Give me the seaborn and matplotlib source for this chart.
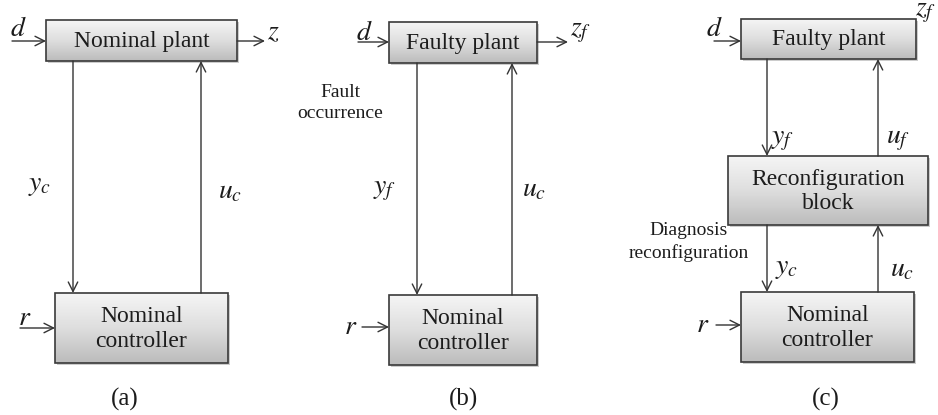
import matplotlib.pyplot as plt
import numpy as np
import seaborn as sns
from matplotlib.colors import LinearSegmentedColormap
from matplotlib.patches import Rectangle

# block labels and their corners in picture pixels (x0, y0, x1, y1)
BLOCK_LABELS = ['Nominal plant', 'Nominal\ncontroller',
                'Faulty plant', 'Nominal\ncontroller',
                'Faulty plant', 'Reconfiguration\nblock', 'Nominal\ncontroller']
BLOCK_BOXES = [(46, 20, 237, 61), (55, 293, 228, 363),
               (389, 22, 537, 63), (389, 295, 537, 365),
               (741, 19, 916, 59), (728, 156, 928, 225), (741, 292, 914, 362)]

# signal arrows: start, end
ARROWS = [
    ((12, 41), (46, 41)), ((237, 41), (265, 41)),
    ((73, 61), (73, 293)), ((201, 293), (201, 61)),
    ((20, 328), (55, 328)),
    ((358, 42), (389, 42)), ((537, 42), (568, 42)),
    ((417, 63), (417, 295)), ((512, 295), (512, 63)),
    ((362, 327), (389, 327)),
    ((714, 41), (741, 41)), ((916, 41), (940, 41)),
    ((767, 59), (767, 156)), ((878, 156), (878, 59)),
    ((767, 225), (767, 292)), ((878, 292), (878, 225)),
    ((716, 325), (741, 325)),
]

SIGNAL_LABELS = ['$d$', '$z$', '$y_c$', '$u_c$', '$r$',
                 '$d$', '$z_f$', '$y_f$', '$u_c$', '$r$',
                 '$d$', '$z_f$', '$y_f$', '$u_f$', '$y_c$', '$u_c$', '$r$']
SIGNAL_POS = [(18, 30), (273, 33), (40, 185), (230, 192), (25, 318),
              (364, 34), (581, 33), (385, 190), (534, 190), (351, 327),
              (714, 30), (926, 13), (783, 140), (898, 140), (787, 268), (902, 270), (703, 325)]

NOTES = ['Fault\noccurrence', 'Diagnosis\nreconfiguration']
NOTE_POS = [(340, 103), (689, 242)]

PANEL_LABELS = ['(a)', '(b)', '(c)']
PANEL_POS = [(125, 399), (463, 399), (826, 399)]

sns.set_theme(style='white')
plt.rcParams['font.family'] = ['Liberation Serif', 'DejaVu Serif']
plt.rcParams['mathtext.fontset'] = 'stix'

SERIF = ['Liberation Serif', 'DejaVu Serif']
INK = '#1c1c1c'
shade = LinearSegmentedColormap.from_list('shade', ['#f5f5f5', '#dedede', '#bcbcbc'])

fig = plt.figure(figsize=(9.38, 4.15), dpi=100)
ax = fig.add_axes([0, 0, 1, 1])
ax.set_xlim(0, 938)
ax.set_ylim(415, 0)
ax.axis('off')

grad = np.linspace(0, 1, 64).reshape(-1, 1)
for label, (x0, y0, x1, y1) in zip(BLOCK_LABELS, BLOCK_BOXES):
    ax.add_patch(Rectangle((x0 + 2, y0 + 2), x1 - x0, y1 - y0,
                           facecolor='#9a9a9a', edgecolor='none', alpha=0.5, zorder=1))
    ax.imshow(grad, extent=(x0, x1, y1, y0), cmap=shade, aspect='auto',
              origin='upper', zorder=2)
    ax.add_patch(Rectangle((x0, y0), x1 - x0, y1 - y0, facecolor='none',
                           edgecolor='#3a3a3a', lw=1.2, zorder=3))
    ax.text((x0 + x1) / 2, (y0 + y1) / 2 + 1, label, ha='center', va='center',
            fontsize=17, color=INK, linespacing=1.2, family=SERIF, zorder=4)

for start, end in ARROWS:
    ax.annotate('', xy=end, xytext=start,
                arrowprops=dict(arrowstyle='->', color='#333333', lw=1.0,
                                shrinkA=0, shrinkB=0, mutation_scale=17),
                zorder=3)

for s, (x, y) in zip(SIGNAL_LABELS, SIGNAL_POS):
    ax.text(x, y, s, ha='center', va='center', fontsize=20, color=INK)

for s, (x, y) in zip(NOTES, NOTE_POS):
    ax.text(x, y, s, ha='center', va='center', fontsize=14, color=INK,
            linespacing=1.3, family=SERIF)

for s, (x, y) in zip(PANEL_LABELS, PANEL_POS):
    ax.text(x, y, s, ha='center', va='center', fontsize=18, color=INK, family=SERIF)

ax.set_xlim(0, 938)
ax.set_ylim(415, 0)
fig.savefig('out.png', dpi=100)
